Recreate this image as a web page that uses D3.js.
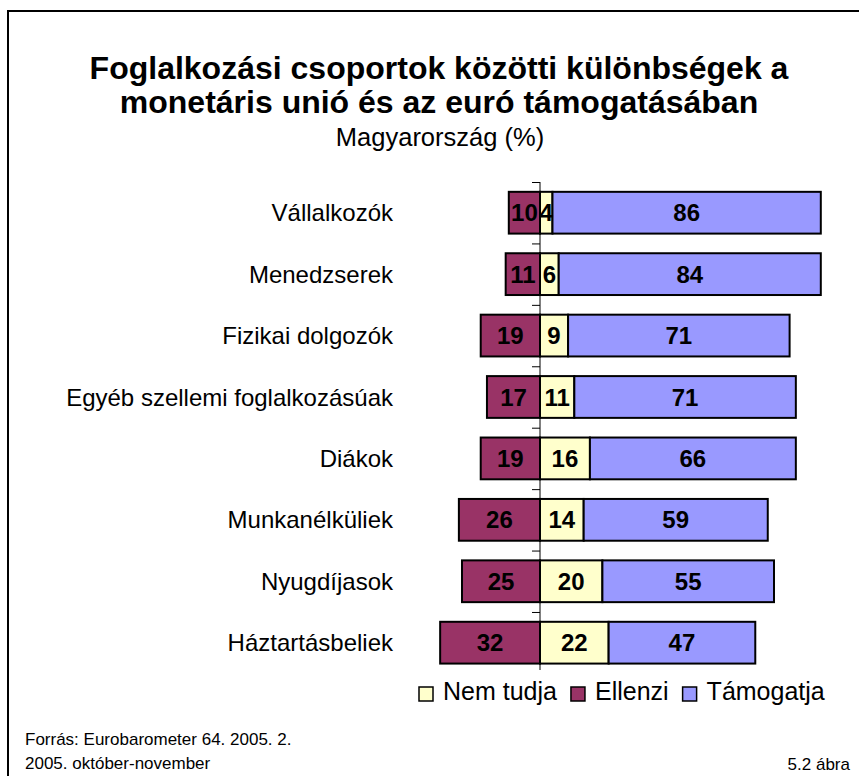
<!DOCTYPE html>
<html>
<head>
<meta charset="utf-8">
<script src="https://cdn.jsdelivr.net/npm/d3@7"></script>
<style>
  body { margin: 0; background: #fff; }
  svg text { font-family: "Liberation Sans", Arial, sans-serif; fill: #000; }
</style>
</head>
<body>
<svg id="chart"></svg>
<script>
//DATA//
var categories = [
  "Vállalkozók",
  "Menedzserek",
  "Fizikai dolgozók",
  "Egyéb szellemi foglalkozásúak",
  "Diákok",
  "Munkanélküliek",
  "Nyugdíjasok",
  "Háztartásbeliek"
];
var ellenzi = [10, 11, 19, 17, 19, 26, 25, 32];
var nemTudja = [4, 6, 9, 11, 16, 14, 20, 22];
var tamogatja = [86, 84, 71, 71, 66, 59, 55, 47];

var seriesNames = ["Nem tudja", "Ellenzi", "Támogatja"];
var colors = { "Nem tudja": "#FFFFCC", Ellenzi: "#993366", "Támogatja": "#9999FF" };

var screen = { width: 859, height: 776 };
var svg = d3.select("#chart").attr("width", screen.width).attr("height", screen.height);

//frame (top + left edges only visible)//
svg.append("path")
  .attr("d", "M8,800 L8,11 L870,11")
  .attr("fill", "none")
  .attr("stroke", "#000")
  .attr("stroke-width", 2);

//TITLES//
var titles = svg.append("g").attr("text-anchor", "middle");
titles.append("text")
  .text("Foglalkozási csoportok közötti különbségek a")
  .attr("x", 439).attr("y", 79)
  .style("font-size", "32px").style("font-weight", "bold");
titles.append("text")
  .text("monetáris unió és az euró támogatásában")
  .attr("x", 439).attr("y", 113)
  .style("font-size", "32px").style("font-weight", "bold");
titles.append("text")
  .text("Magyarország (%)")
  .attr("x", 440).attr("y", 146)
  .style("font-size", "25.5px");

//SCALES//
var xScale = d3.scaleLinear().domain([-40, 100]).range([415.2, 852]);
var yScale = d3.scaleBand()
  .domain(categories)
  .range([182, 673.4])
  .paddingInner(0.32)
  .paddingOuter(0.16);

var rows = categories.map(function (c, i) {
  return { cat: c, ellenzi: ellenzi[i], nem: nemTudja[i], tam: tamogatja[i] };
});

//BARS//
var graph = svg.append("g").classed("graph", true);
var segs = [];
rows.forEach(function (r) {
  segs.push({ cat: r.cat, name: "Ellenzi", x0: -r.ellenzi, x1: 0, v: r.ellenzi });
  segs.push({ cat: r.cat, name: "Nem tudja", x0: 0, x1: r.nem, v: r.nem });
  segs.push({ cat: r.cat, name: "Támogatja", x0: r.nem, x1: r.nem + r.tam, v: r.tam });
});

graph.selectAll("rect")
  .data(segs)
  .enter()
  .append("rect")
  .attr("x", function (d) { return xScale(d.x0); })
  .attr("width", function (d) { return xScale(d.x1) - xScale(d.x0); })
  .attr("y", function (d) { return yScale(d.cat); })
  .attr("height", yScale.bandwidth())
  .attr("fill", function (d) { return colors[d.name]; })
  .attr("stroke", "#000")
  .attr("stroke-width", 2);

//AXIS (zero line with ticks on category boundaries)//
var axis = svg.append("g");
var step = yScale.step();
var y0 = yScale.range()[0];
axis.append("line")
  .attr("x1", xScale(0)).attr("x2", xScale(0))
  .attr("y1", y0).attr("y2", 670)
  .attr("stroke", "#000").attr("stroke-width", 1);
axis.selectAll(".tick")
  .data(d3.range(categories.length))
  .enter()
  .append("line")
  .attr("x1", xScale(0) - 8).attr("x2", xScale(0))
  .attr("y1", function (i) { return y0 + i * step + 0.5; })
  .attr("y2", function (i) { return y0 + i * step + 0.5; })
  .attr("stroke", "#000").attr("stroke-width", 1);

//VALUE LABELS//
graph.selectAll("text.val")
  .data(segs)
  .enter()
  .append("text")
  .classed("val", true)
  .text(function (d) { return d.v; })
  .attr("text-anchor", "middle")
  .attr("x", function (d) { return (xScale(d.x0) + xScale(d.x1)) / 2; })
  .attr("y", function (d) { return yScale(d.cat) + yScale.bandwidth() / 2; })
  .attr("dy", "0.36em")
  .style("font-size", "24px")
  .style("font-weight", "bold");

//CATEGORY LABELS//
svg.append("g").selectAll("text")
  .data(categories)
  .enter()
  .append("text")
  .text(function (d) { return d; })
  .attr("text-anchor", "end")
  .attr("x", 393)
  .attr("y", function (d) { return yScale(d) + yScale.bandwidth() / 2; })
  .attr("dy", "0.36em")
  .style("font-size", "24px");

//LEGEND//
var legend = svg.append("g");
var lx = 419;
seriesNames.forEach(function (name) {
  legend.append("rect")
    .attr("x", lx).attr("y", 687)
    .attr("width", 14).attr("height", 14)
    .attr("fill", colors[name])
    .attr("stroke", "#000").attr("stroke-width", 1.5);
  var t = legend.append("text")
    .text(name)
    .attr("x", lx + 24).attr("y", 700)
    .style("font-size", "25px");
  lx = lx + 24 + t.node().getComputedTextLength() + 14;
});

//FOOTER//
svg.append("text").text("Forrás: Eurobarometer 64. 2005. 2.")
  .attr("x", 25).attr("y", 745).style("font-size", "17px");
svg.append("text").text("2005. október-november")
  .attr("x", 25).attr("y", 769).style("font-size", "17px");
svg.append("text").text("5.2 ábra")
  .attr("x", 850).attr("y", 770).attr("text-anchor", "end").style("font-size", "17px");
</script>
</body>
</html>
